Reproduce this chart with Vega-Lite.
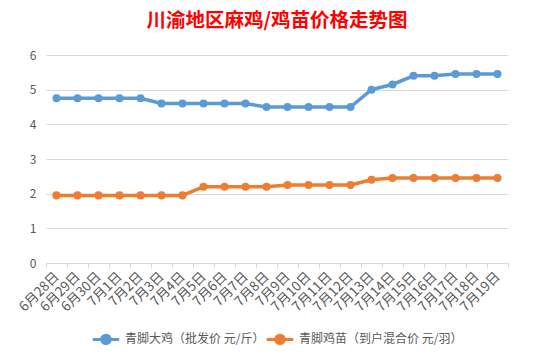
{
  "$schema": "https://vega.github.io/schema/vega-lite/v6.json",
  "width": 556,
  "height": 363,
  "autosize": {"type": "fit", "contains": "padding"},
  "padding": {"left": 18, "right": 47, "top": 10, "bottom": 13},
  "background": "white",
  "title": {
    "text": "川渝地区麻鸡/鸡苗价格走势图",
    "color": "#FF0000",
    "fontSize": 19.5,
    "font": "Noto Sans CJK SC",
    "fontWeight": "bold",
    "anchor": "middle",
    "offset": 18
  },
  "config": {
    "view": {"stroke": null},
    "font": "Noto Sans CJK SC",
    "axis": {"labelColor": "#595959", "labelFontSize": 12, "gridColor": "#d9d9d9", "domainColor": "#d9d9d9", "tickColor": "#d9d9d9"},
    "legend": {"labelColor": "#595959", "labelFontSize": 12, "layout": {"bottom": {"anchor": "middle"}}}
  },
  "data": {
    "values": [
      {"date": "6月28日", "series": "青脚大鸡（批发价 元/斤）", "price": 4.75},
      {"date": "6月29日", "series": "青脚大鸡（批发价 元/斤）", "price": 4.75},
      {"date": "6月30日", "series": "青脚大鸡（批发价 元/斤）", "price": 4.75},
      {"date": "7月1日", "series": "青脚大鸡（批发价 元/斤）", "price": 4.75},
      {"date": "7月2日", "series": "青脚大鸡（批发价 元/斤）", "price": 4.75},
      {"date": "7月3日", "series": "青脚大鸡（批发价 元/斤）", "price": 4.6},
      {"date": "7月4日", "series": "青脚大鸡（批发价 元/斤）", "price": 4.6},
      {"date": "7月5日", "series": "青脚大鸡（批发价 元/斤）", "price": 4.6},
      {"date": "7月6日", "series": "青脚大鸡（批发价 元/斤）", "price": 4.6},
      {"date": "7月7日", "series": "青脚大鸡（批发价 元/斤）", "price": 4.6},
      {"date": "7月8日", "series": "青脚大鸡（批发价 元/斤）", "price": 4.5},
      {"date": "7月9日", "series": "青脚大鸡（批发价 元/斤）", "price": 4.5},
      {"date": "7月10日", "series": "青脚大鸡（批发价 元/斤）", "price": 4.5},
      {"date": "7月11日", "series": "青脚大鸡（批发价 元/斤）", "price": 4.5},
      {"date": "7月12日", "series": "青脚大鸡（批发价 元/斤）", "price": 4.5},
      {"date": "7月13日", "series": "青脚大鸡（批发价 元/斤）", "price": 5.0},
      {"date": "7月14日", "series": "青脚大鸡（批发价 元/斤）", "price": 5.15},
      {"date": "7月15日", "series": "青脚大鸡（批发价 元/斤）", "price": 5.4},
      {"date": "7月16日", "series": "青脚大鸡（批发价 元/斤）", "price": 5.4},
      {"date": "7月17日", "series": "青脚大鸡（批发价 元/斤）", "price": 5.45},
      {"date": "7月18日", "series": "青脚大鸡（批发价 元/斤）", "price": 5.45},
      {"date": "7月19日", "series": "青脚大鸡（批发价 元/斤）", "price": 5.45},
      {"date": "6月28日", "series": "青脚鸡苗（到户混合价 元/羽）", "price": 1.95},
      {"date": "6月29日", "series": "青脚鸡苗（到户混合价 元/羽）", "price": 1.95},
      {"date": "6月30日", "series": "青脚鸡苗（到户混合价 元/羽）", "price": 1.95},
      {"date": "7月1日", "series": "青脚鸡苗（到户混合价 元/羽）", "price": 1.95},
      {"date": "7月2日", "series": "青脚鸡苗（到户混合价 元/羽）", "price": 1.95},
      {"date": "7月3日", "series": "青脚鸡苗（到户混合价 元/羽）", "price": 1.95},
      {"date": "7月4日", "series": "青脚鸡苗（到户混合价 元/羽）", "price": 1.95},
      {"date": "7月5日", "series": "青脚鸡苗（到户混合价 元/羽）", "price": 2.2},
      {"date": "7月6日", "series": "青脚鸡苗（到户混合价 元/羽）", "price": 2.2},
      {"date": "7月7日", "series": "青脚鸡苗（到户混合价 元/羽）", "price": 2.2},
      {"date": "7月8日", "series": "青脚鸡苗（到户混合价 元/羽）", "price": 2.2},
      {"date": "7月9日", "series": "青脚鸡苗（到户混合价 元/羽）", "price": 2.25},
      {"date": "7月10日", "series": "青脚鸡苗（到户混合价 元/羽）", "price": 2.25},
      {"date": "7月11日", "series": "青脚鸡苗（到户混合价 元/羽）", "price": 2.25},
      {"date": "7月12日", "series": "青脚鸡苗（到户混合价 元/羽）", "price": 2.25},
      {"date": "7月13日", "series": "青脚鸡苗（到户混合价 元/羽）", "price": 2.4},
      {"date": "7月14日", "series": "青脚鸡苗（到户混合价 元/羽）", "price": 2.45},
      {"date": "7月15日", "series": "青脚鸡苗（到户混合价 元/羽）", "price": 2.45},
      {"date": "7月16日", "series": "青脚鸡苗（到户混合价 元/羽）", "price": 2.45},
      {"date": "7月17日", "series": "青脚鸡苗（到户混合价 元/羽）", "price": 2.45},
      {"date": "7月18日", "series": "青脚鸡苗（到户混合价 元/羽）", "price": 2.45},
      {"date": "7月19日", "series": "青脚鸡苗（到户混合价 元/羽）", "price": 2.45}
    ]
  },
  "encoding": {
    "x": {
      "field": "date", "type": "ordinal", "sort": null, "title": null,
      "scale": {"type": "band", "paddingInner": 0, "paddingOuter": 0},
      "axis": {"labelAngle": -45, "labelAlign": "right", "labelBaseline": "middle", "labelFontSize": 13.5, "tickBand": "extent", "tickSize": 5, "labelPadding": 6, "grid": false}
    },
    "y": {
      "field": "price", "type": "quantitative", "title": null,
      "scale": {"domain": [0, 6], "nice": false},
      "axis": {"values": [0, 1, 2, 3, 4, 5, 6], "domain": false, "ticks": false, "labelPadding": 10, "grid": true}
    },
    "color": {
      "field": "series", "type": "nominal", "title": null,
      "scale": {"range": ["#5B9BD5", "#ED7D31"]},
      "legend": {"orient": "bottom", "direction": "horizontal", "symbolType": "M-1,0L1,0M-0.32,0A0.32,0.32 0 1,0 0.32,0A0.32,0.32 0 1,0 -0.32,0Z", "symbolSize": 700, "symbolStrokeWidth": 3, "columnPadding": -8, "labelOffset": 4, "labelLimit": 300, "offset": 10}
    }
  },
  "layer": [
    {"mark": {"type": "line", "strokeWidth": 3.5}},
    {"mark": {"type": "point", "filled": true, "size": 65, "opacity": 1}}
  ]
}
